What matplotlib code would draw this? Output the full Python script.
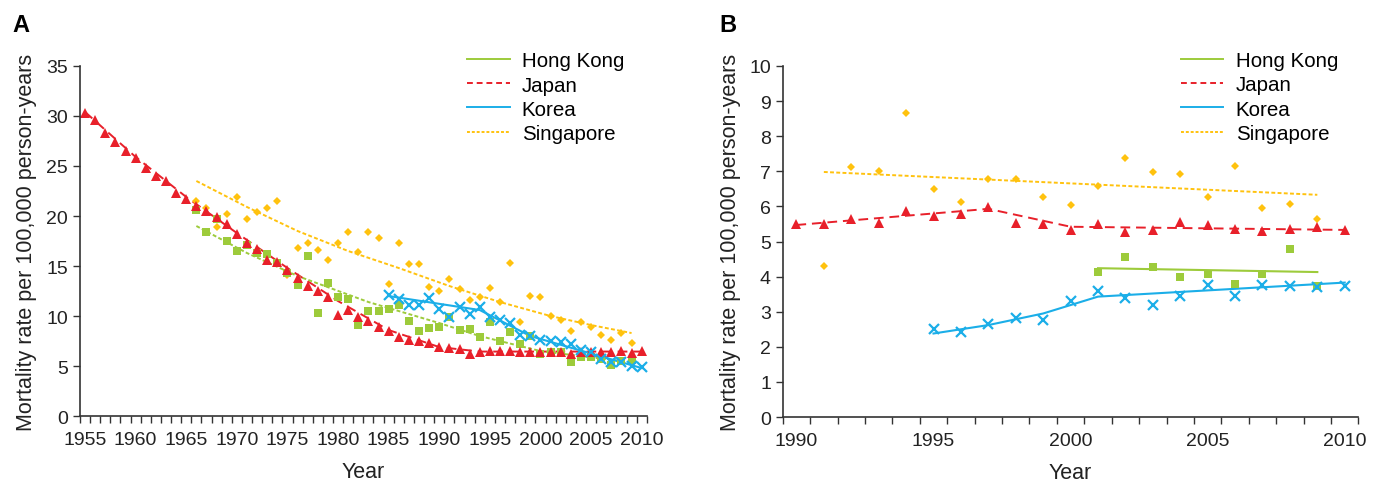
import numpy as np
import matplotlib
matplotlib.use("Agg")
import matplotlib.pyplot as plt
from matplotlib.lines import Line2D

plt.rcParams['font.family'] = ['Liberation Sans', 'DejaVu Sans']

# colours
c_hk = '#9DCB3B'
c_jp = '#E8202A'
c_kr = '#1BAEE8'
c_sg = '#FFC20E'

# ---- panel A data (1955-2010) ----
years_jp_a = list(range(1955, 2011))
japan_a = [30.3, 29.6, 28.3, 27.4, 26.5, 25.8, 24.8, 24.0, 23.5, 22.3,
           21.7, 21.0, 20.5, 19.9, 19.2, 18.2, 17.3, 16.7, 15.6, 15.4,
           14.6, 13.8, 13.0, 12.5, 11.9, 10.1, 10.6, 9.9, 9.5, 8.9,
           8.5, 7.9, 7.6, 7.5, 7.3, 6.9, 6.8, 6.7, 6.2, 6.4,
           6.5, 6.5, 6.5, 6.4, 6.4, 6.4, 6.4, 6.4, 6.2, 6.4,
           6.4, 6.4, 6.4, 6.5, 6.3, 6.5]
japan_a_fit_x = [1955, 1960, 1965, 1970, 1975, 1980, 1985, 1990, 1994, 2010]
japan_a_fit = [30.4, 25.9, 21.9, 18.3, 14.8, 11.5, 8.6, 6.9, 6.45, 6.45]

years_hk_a = list(range(1966, 2010))
hongkong_a = [20.6, 18.4, 19.7, 17.5, 16.5, 17.1, 16.3, 16.2, 15.3, 14.3,
              13.1, 16.0, 10.3, 13.3, 11.9, 11.7, 9.1, 10.5, 10.5, 10.7,
              11.1, 9.5, 8.5, 8.8, 8.9, 9.9, 8.6, 8.7, 7.9, 9.4,
              7.5, 8.4, 7.2, 8.0, 6.2, 6.4, 6.4, 5.4, 5.9, 5.9,
              5.7, 5.1, 5.5, 5.6]
hongkong_a_fit_x = [1966, 1971, 1976, 1983, 1990, 1994, 2000, 2008]
hongkong_a_fit = [19.0, 16.3, 14.0, 11.4, 9.3, 8.0, 6.5, 5.5]

years_kr_a = list(range(1985, 2011))
korea_a = [12.1, 11.7, 11.1, 11.1, 11.8, 10.7, 9.9, 10.9, 10.2, 10.9,
           9.9, 9.6, 9.3, 8.1, 8.0, 7.6, 7.5, 7.4, 7.2, 6.6,
           6.4, 5.7, 5.4, 5.4, 5.0, 4.9]
korea_a_fit_x = [1985, 1994, 1999, 2010]
korea_a_fit = [12.0, 10.6, 8.0, 4.8]

years_sg_a = list(range(1966, 2010))
singapore_a = [21.5, 20.8, 18.9, 20.2, 21.9, 19.7, 20.4, 20.8, 21.5, 14.1,
               16.8, 17.3, 16.6, 15.6, 17.3, 18.4, 16.4, 18.4, 17.8, 13.2,
               17.3, 15.2, 15.2, 12.9, 12.5, 13.7, 12.7, 11.6, 11.9, 12.8,
               11.4, 15.3, 9.4, 12.0, 11.9, 10.0, 9.6, 8.5, 9.4, 8.9,
               8.1, 7.6, 8.3, 7.3]
singapore_a_fit_x = [1966, 1971, 1976, 1981, 1986, 1991, 1996, 2001, 2005, 2009]
singapore_a_fit = [23.5, 20.9, 18.5, 16.5, 14.8, 13.0, 11.4, 10.0, 9.1, 8.3]

# ---- panel B data (1990-2010) ----
years_jp_b = list(range(1990, 2011))
japan_b = [5.50, 5.50, 5.64, 5.54, 5.88, 5.73, 5.79, 5.97, 5.54, 5.51,
           5.33, 5.51, 5.27, 5.33, 5.55, 5.46, 5.35, 5.29, 5.35, 5.40, 5.33]
japan_b_fit_x = [1990, 1997, 2000, 2010]
japan_b_fit = [5.47, 5.93, 5.42, 5.33]

years_sg_b = list(range(1991, 2010))
singapore_b = [4.31, 7.12, 7.01, 8.67, 6.50, 6.13, 6.78, 6.79, 6.26, 6.03,
               6.59, 7.37, 6.97, 6.91, 6.28, 7.14, 5.96, 6.08, 5.64]
singapore_b_fit_x = [1991, 2009]
singapore_b_fit = [6.98, 6.33]

years_kr_b = list(range(1995, 2011))
korea_b = [2.50, 2.43, 2.65, 2.81, 2.76, 3.31, 3.60, 3.38, 3.19, 3.45,
           3.76, 3.45, 3.76, 3.73, 3.71, 3.73]
korea_b_fit_x = [1995, 1997, 1999, 2001, 2010]
korea_b_fit = [2.38, 2.62, 2.95, 3.43, 3.83]

years_hk_b = list(range(2001, 2010))
hongkong_b = [4.14, 4.55, 4.26, 3.99, 4.07, 3.79, 4.07, 4.79, 3.73]
hongkong_b_fit_x = [2001, 2009]
hongkong_b_fit = [4.24, 4.13]

ylabel = 'Mortality rate per 100,000 person-years'

fig = plt.figure(figsize=(13.79, 4.85), dpi=100)
axA = fig.add_axes([0.058, 0.140, 0.411, 0.722])
axB = fig.add_axes([0.5676, 0.138, 0.4175, 0.724])


def style_axis(ax, x0, x1, step, ymax, ystep, ylabelpad):
    for s in ['top', 'right']:
        ax.spines[s].set_visible(False)
    for s in ['left', 'bottom']:
        ax.spines[s].set_linewidth(1.2)
        ax.spines[s].set_color('#333333')
    ax.set_xlim(x0 - 0.5, x1 + 0.5)
    ax.set_ylim(0, ymax)
    # category-style axis: ticks between years, labels at year centres
    ax.set_xticks(np.arange(x0 - 0.5, x1 + 1, 1))
    ax.set_xticklabels([])
    ax.set_xticks(range(x0, x1 + 1, step), minor=True)
    ax.set_xticklabels([str(y) for y in range(x0, x1 + 1, step)], minor=True,
                       fontsize=14, color='#222222')
    ax.tick_params(axis='x', which='major', direction='out', length=5, width=1, color='#333333')
    ax.tick_params(axis='x', which='minor', length=0, pad=11)
    ax.set_yticks(np.arange(0, ymax + 0.01, ystep))
    ax.set_yticklabels([f'{v:g}' for v in np.arange(0, ymax + 0.01, ystep)],
                       fontsize=14, color='#222222')
    ax.tick_params(axis='y', direction='out', length=5, width=1, color='#333333')
    ax.set_xlabel('Year', fontsize=15.5, color='#222222', labelpad=9)
    ax.set_ylabel(ylabel, fontsize=15.5, color='#222222', labelpad=ylabelpad)


# panel A
axA.plot(japan_a_fit_x, japan_a_fit, color=c_jp, lw=1.4, dashes=(5, 3))
axA.plot(hongkong_a_fit_x, hongkong_a_fit, color=c_hk, lw=1.4, dashes=(2, 1.2))
axA.plot(singapore_a_fit_x, singapore_a_fit, color=c_sg, lw=1.4, dashes=(2, 1.2))
axA.plot(korea_a_fit_x, korea_a_fit, color=c_kr, lw=1.5)
axA.plot(years_sg_a, singapore_a, 'D', color=c_sg, ms=4.5, mew=0)
axA.plot(years_hk_a, hongkong_a, 's', color=c_hk, ms=5.5, mew=0)
axA.plot(years_jp_a, japan_a, '^', color=c_jp, ms=6.5, mew=0)
axA.plot(years_kr_a, korea_a, 'x', color=c_kr, ms=7.5, mew=1.6)
style_axis(axA, 1955, 2010, 5, 35, 5, 7)

# panel B
axB.plot(japan_b_fit_x, japan_b_fit, color=c_jp, lw=1.4, dashes=(5, 3))
axB.plot(singapore_b_fit_x, singapore_b_fit, color=c_sg, lw=1.4, dashes=(2, 1.2))
axB.plot(hongkong_b_fit_x, hongkong_b_fit, color=c_hk, lw=1.5)
axB.plot(korea_b_fit_x, korea_b_fit, color=c_kr, lw=1.5)
axB.plot(years_sg_b, singapore_b, 'D', color=c_sg, ms=4.5, mew=0)
axB.plot(years_hk_b, hongkong_b, 's', color=c_hk, ms=5.5, mew=0)
axB.plot(years_jp_b, japan_b, '^', color=c_jp, ms=6.5, mew=0)
axB.plot(years_kr_b, korea_b, 'x', color=c_kr, ms=7.5, mew=1.6)
style_axis(axB, 1990, 2010, 5, 10, 1, 6)

handles = [Line2D([], [], color=c_hk, lw=1.4),
           Line2D([], [], color=c_jp, lw=1.4, dashes=(3, 2)),
           Line2D([], [], color=c_kr, lw=1.4),
           Line2D([], [], color=c_sg, lw=1.4, dashes=(1.5, 1))]
names = ['Hong Kong', 'Japan', 'Korea', 'Singapore']
for ax, pos in [(axA, (0.669, 1.065)), (axB, (0.678, 1.065))]:
    ax.legend(handles, names, loc='upper left', bbox_to_anchor=pos, frameon=False,
              prop={'size': 14.8}, handlelength=2.05, handletextpad=0.6,
              labelspacing=0.25, borderaxespad=0)

fig.text(0.009, 0.972, 'A', fontsize=17, fontweight='bold', va='top')
fig.text(0.522, 0.972, 'B', fontsize=17, fontweight='bold', va='top')

fig.savefig('out.png', dpi=100)
